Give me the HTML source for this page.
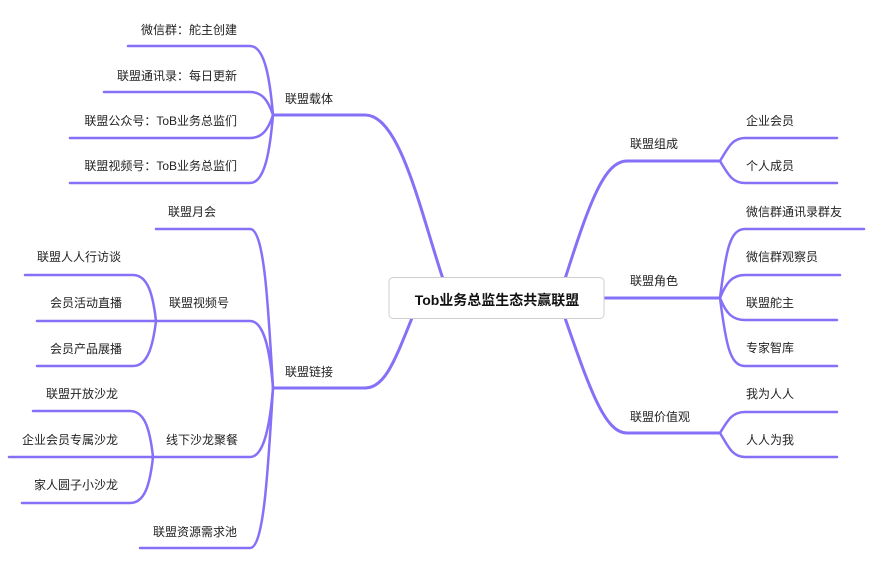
<!DOCTYPE html>
<html><head><meta charset="utf-8"><style>
html,body{margin:0;padding:0;background:#fff;}
svg{display:block}
text{font-family:"Liberation Sans","Noto Sans CJK SC",sans-serif;font-size:12px;fill:#222}
.m{stroke:#8570f8;stroke-width:3;fill:none;stroke-linecap:round}
.c{stroke:#8570f8;stroke-width:2.5;fill:none;stroke-linecap:round}
</style></head><body>
<svg width="886" height="562" viewBox="0 0 886 562" xmlns="http://www.w3.org/2000/svg">
<!-- main branches -->
<path class="m" d="M443,279 C420,210 400,115 365,115 L274,115"/>
<path class="m" d="M412,318 C395,360 385,388 365,388 L274,388"/>
<path class="m" d="M565,279 C590,200 605,161 627,161 L720,161"/>
<path class="m" d="M604,298 L720,298"/>
<path class="m" d="M565,318 C590,390 605,433 627,433 L720,433"/>

<!-- 联盟载体 children -->
<path class="c" d="M273,115 C270,80 265,46 250,46 L128,46"/>
<path class="c" d="M273,115 C268,100 262,92 250,92 L104,92"/>
<path class="c" d="M273,115 C268,130 262,138 250,138 L70,138"/>
<path class="c" d="M273,115 C270,150 265,183 250,183 L70,183"/>

<!-- 联盟链接 children -->
<path class="c" d="M273,388 C268,300 264,229 250,229 L156,229"/>
<path class="c" d="M273,388 C270,350 264,321 250,321 L156,321"/>
<path class="c" d="M273,388 C270,425 264,457 250,457 L152,457"/>
<path class="c" d="M273,388 C268,470 264,548 250,548 L140,548"/>

<!-- 视频号 children -->
<path class="c" d="M156,321 C153,295 148,275 133,275 L25,275"/>
<path class="c" d="M156,321 L37,321"/>
<path class="c" d="M156,321 C153,345 148,366 133,366 L37,366"/>

<!-- 线下 children -->
<path class="c" d="M153,457 C150,430 145,411 130,411 L33,411"/>
<path class="c" d="M153,457 L9,457"/>
<path class="c" d="M153,457 C150,484 145,503 130,503 L22,503"/>

<!-- right children -->
<path class="c" d="M720,161 C728,148 732,138 745,138 L837,138"/>
<path class="c" d="M720,161 C728,174 732,183 745,183 L837,183"/>
<path class="c" d="M720,298 C726,250 730,229 745,229 L864,229"/>
<path class="c" d="M720,298 C726,283 732,275 745,275 L840,275"/>
<path class="c" d="M720,298 C726,313 732,320 745,320 L837,320"/>
<path class="c" d="M720,298 C726,345 730,366 745,366 L837,366"/>
<path class="c" d="M720,433 C728,420 732,412 745,412 L837,412"/>
<path class="c" d="M720,433 C728,446 732,457 745,457 L837,457"/>

<!-- center box -->
<rect x="389" y="277.5" width="215" height="41" rx="4" fill="#fff" stroke="#cfcfcf" stroke-width="1"/>
<text x="497" y="305" text-anchor="middle" style="font-size:14px;font-weight:bold;fill:#111">Tob业务总监生态共赢联盟</text>

<!-- left labels -->
<text x="285" y="103">联盟载体</text>
<text x="285" y="376">联盟链接</text>
<text x="237" y="34" text-anchor="end">微信群：舵主创建</text>
<text x="237" y="80" text-anchor="end">联盟通讯录：每日更新</text>
<text x="237" y="125" text-anchor="end">联盟公众号：ToB业务总监们</text>
<text x="237" y="170" text-anchor="end">联盟视频号：ToB业务总监们</text>
<text x="168" y="216">联盟月会</text>
<text x="169" y="307">联盟视频号</text>
<text x="166" y="444">线下沙龙聚餐</text>
<text x="153" y="536">联盟资源需求池</text>
<text x="37" y="261">联盟人人行访谈</text>
<text x="50" y="307">会员活动直播</text>
<text x="50" y="353">会员产品展播</text>
<text x="46" y="398">联盟开放沙龙</text>
<text x="22" y="444">企业会员专属沙龙</text>
<text x="34" y="489">家人圆子小沙龙</text>

<!-- right labels -->
<text x="630" y="148">联盟组成</text>
<text x="630" y="285">联盟角色</text>
<text x="630" y="421">联盟价值观</text>
<text x="746" y="125">企业会员</text>
<text x="746" y="170">个人成员</text>
<text x="746" y="216">微信群通讯录群友</text>
<text x="746" y="261">微信群观察员</text>
<text x="746" y="307">联盟舵主</text>
<text x="746" y="352">专家智库</text>
<text x="746" y="398">我为人人</text>
<text x="746" y="444">人人为我</text>
</svg>
</body></html>
